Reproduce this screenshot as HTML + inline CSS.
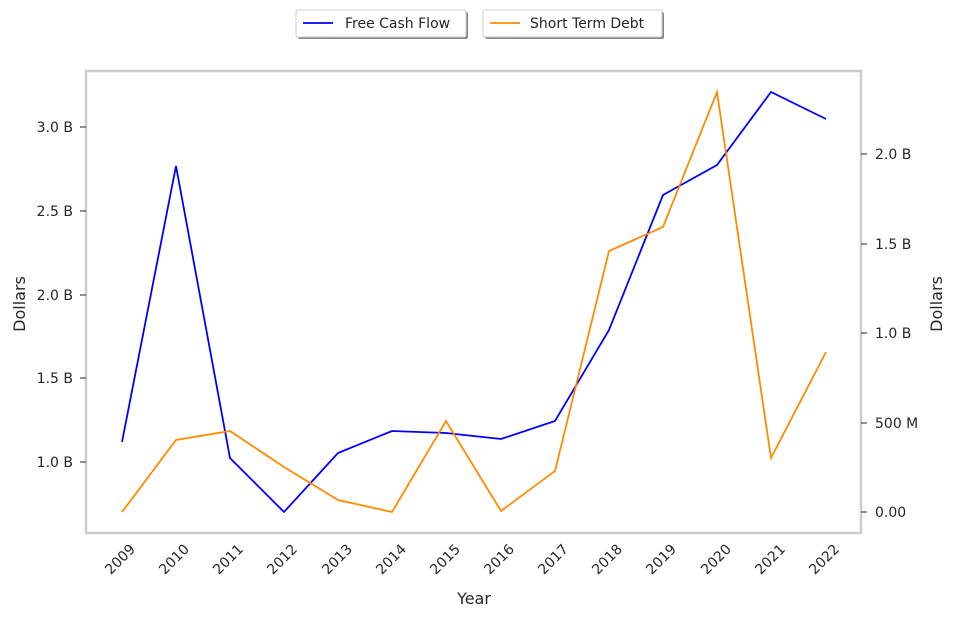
<!DOCTYPE html>
<html><head><meta charset="utf-8"><style>
body{margin:0;background:#fff;}
svg text{font-family:"DejaVu Sans","Liberation Sans",sans-serif;fill:#262626;}
</style></head><body>
<svg width="954" height="618" xmlns="http://www.w3.org/2000/svg">
<rect width="954" height="618" fill="#fff"/>
<rect x="86" y="71" width="775" height="462" fill="none" stroke="#cccccc" stroke-width="2.5"/>
<g font-size="14" text-anchor="end">
<line x1="80" y1="127" x2="86" y2="127" stroke="#262626"/><text x="73" y="132">3.0 B</text>
<line x1="80" y1="211" x2="86" y2="211" stroke="#262626"/><text x="73" y="216">2.5 B</text>
<line x1="80" y1="295" x2="86" y2="295" stroke="#262626"/><text x="73" y="300">2.0 B</text>
<line x1="80" y1="378" x2="86" y2="378" stroke="#262626"/><text x="73" y="383">1.5 B</text>
<line x1="80" y1="462" x2="86" y2="462" stroke="#262626"/><text x="73" y="467">1.0 B</text>
</g>
<g font-size="14" text-anchor="start">
<line x1="861" y1="154" x2="867" y2="154" stroke="#262626"/><text x="875" y="159">2.0 B</text>
<line x1="861" y1="244" x2="867" y2="244" stroke="#262626"/><text x="875" y="249">1.5 B</text>
<line x1="861" y1="333" x2="867" y2="333" stroke="#262626"/><text x="875" y="338">1.0 B</text>
<line x1="861" y1="423" x2="867" y2="423" stroke="#262626"/><text x="875" y="428">500 M</text>
<line x1="861" y1="512" x2="867" y2="512" stroke="#262626"/><text x="875" y="517">0.00</text>
</g>
<g font-size="14" text-anchor="end">
<text transform="translate(136,550) rotate(-45)">2009</text>
<text transform="translate(190,550) rotate(-45)">2010</text>
<text transform="translate(244,550) rotate(-45)">2011</text>
<text transform="translate(298,550) rotate(-45)">2012</text>
<text transform="translate(353,550) rotate(-45)">2013</text>
<text transform="translate(407,550) rotate(-45)">2014</text>
<text transform="translate(461,550) rotate(-45)">2015</text>
<text transform="translate(515,550) rotate(-45)">2016</text>
<text transform="translate(569,550) rotate(-45)">2017</text>
<text transform="translate(623,550) rotate(-45)">2018</text>
<text transform="translate(677,550) rotate(-45)">2019</text>
<text transform="translate(732,550) rotate(-45)">2020</text>
<text transform="translate(786,550) rotate(-45)">2021</text>
<text transform="translate(840,550) rotate(-45)">2022</text>
</g>
<text x="474" y="604" font-size="16" text-anchor="middle">Year</text>
<text transform="translate(25,304) rotate(-90)" font-size="16" text-anchor="middle">Dollars</text>
<text transform="translate(942,304) rotate(-90)" font-size="16" text-anchor="middle">Dollars</text>
<polyline fill="none" stroke="#0000ff" stroke-width="1.8" points="122,442 176,166 230,458 284,512 338,453 392,431 446,433 501,439 555,421 609,330 663,195 717,165 771,92 826,119"/>
<polyline fill="none" stroke="#ff8c00" stroke-width="1.8" points="122,512 176,440 230,431 284,467 338,500 392,512 446,421 501,511 555,471 609,251 663,227 717,92 771,458 826,352"/>
<rect x="298" y="12" width="170" height="27" fill="#888" rx="2"/>
<rect x="296" y="10" width="170" height="27" fill="#fff" stroke="#ccc" rx="2"/>
<line x1="303" y1="23" x2="333" y2="23" stroke="#0000ff" stroke-width="1.8"/>
<text x="345" y="28" font-size="14">Free Cash Flow</text>
<rect x="485" y="12" width="179" height="27" fill="#888" rx="2"/>
<rect x="483" y="10" width="179" height="27" fill="#fff" stroke="#ccc" rx="2"/>
<line x1="490" y1="23" x2="520" y2="23" stroke="#ff8c00" stroke-width="1.8"/>
<text x="530" y="28" font-size="14">Short Term Debt</text>
</svg>
</body></html>
